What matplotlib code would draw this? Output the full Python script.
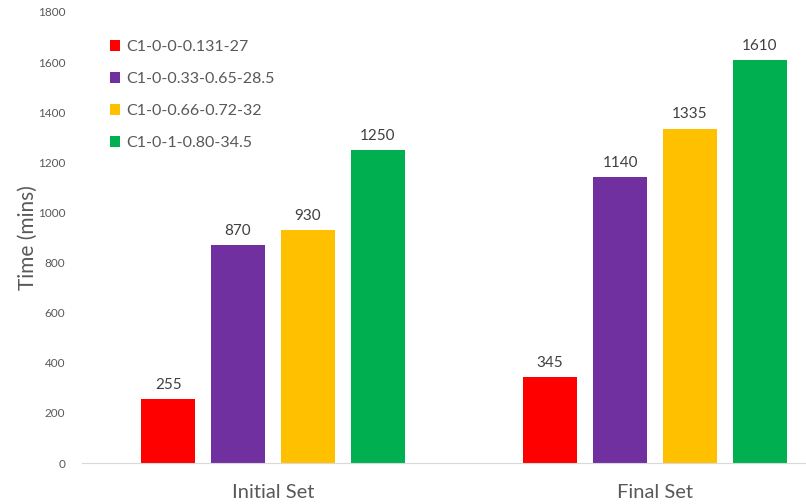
import matplotlib.pyplot as plt
import numpy as np

plt.rcParams['font.family'] = ['Lato', 'DejaVu Sans']

groups = ['Initial Set', 'Final Set']
series = ['C1-0-0-0.131-27', 'C1-0-0.33-0.65-28.5', 'C1-0-0.66-0.72-32', 'C1-0-1-0.80-34.5']
values = [[255, 345], [870, 1140], [930, 1335], [1250, 1610]]
colors = ['#FF0000', '#7030A0', '#FFC000', '#00B050']
yticks = [0, 200, 400, 600, 800, 1000, 1200, 1400, 1600, 1800]

fig = plt.figure(figsize=(8.06, 5.04), dpi=100)
ax = fig.add_axes([82 / 806, 41 / 504, 764 / 806, 451 / 504])

x = np.arange(len(groups))
width = 0.141
step = 0.183
for i, (name, vals, col) in enumerate(zip(series, values, colors)):
    pos = x + (i - 1.5) * step
    bars = ax.bar(pos, vals, width, color=col, label=name)
    for b, v in zip(bars, vals):
        ax.text(b.get_x() + b.get_width() / 2, v + 28, str(v), ha='center', va='bottom',
                fontsize=11, color='#404040')

ax.set_xlim(-0.5, 1.5)
ax.set_ylim(0, 1800)
ax.set_yticks(yticks)
ax.set_xticks(x)
ax.set_xticklabels(groups, fontsize=14.5, color='#595959')
ax.tick_params(axis='y', length=0, pad=12, labelsize=8.5, labelcolor='#595959')
ax.tick_params(axis='x', length=0, pad=15)
ax.set_ylabel('Time (mins)', fontsize=15, color='#595959', labelpad=0)

for s in ['top', 'right', 'left']:
    ax.spines[s].set_visible(False)
ax.spines['bottom'].set_color('#D9D9D9')

leg = ax.legend(loc='upper left', bbox_to_anchor=(0.028, 0.952), frameon=False,
                fontsize=11.5, labelspacing=1.13, handlelength=0.65, handleheight=0.65,
                handletextpad=0.35, borderaxespad=0)
for t in leg.get_texts():
    t.set_color('#595959')

fig.savefig('out.png', dpi=100)
